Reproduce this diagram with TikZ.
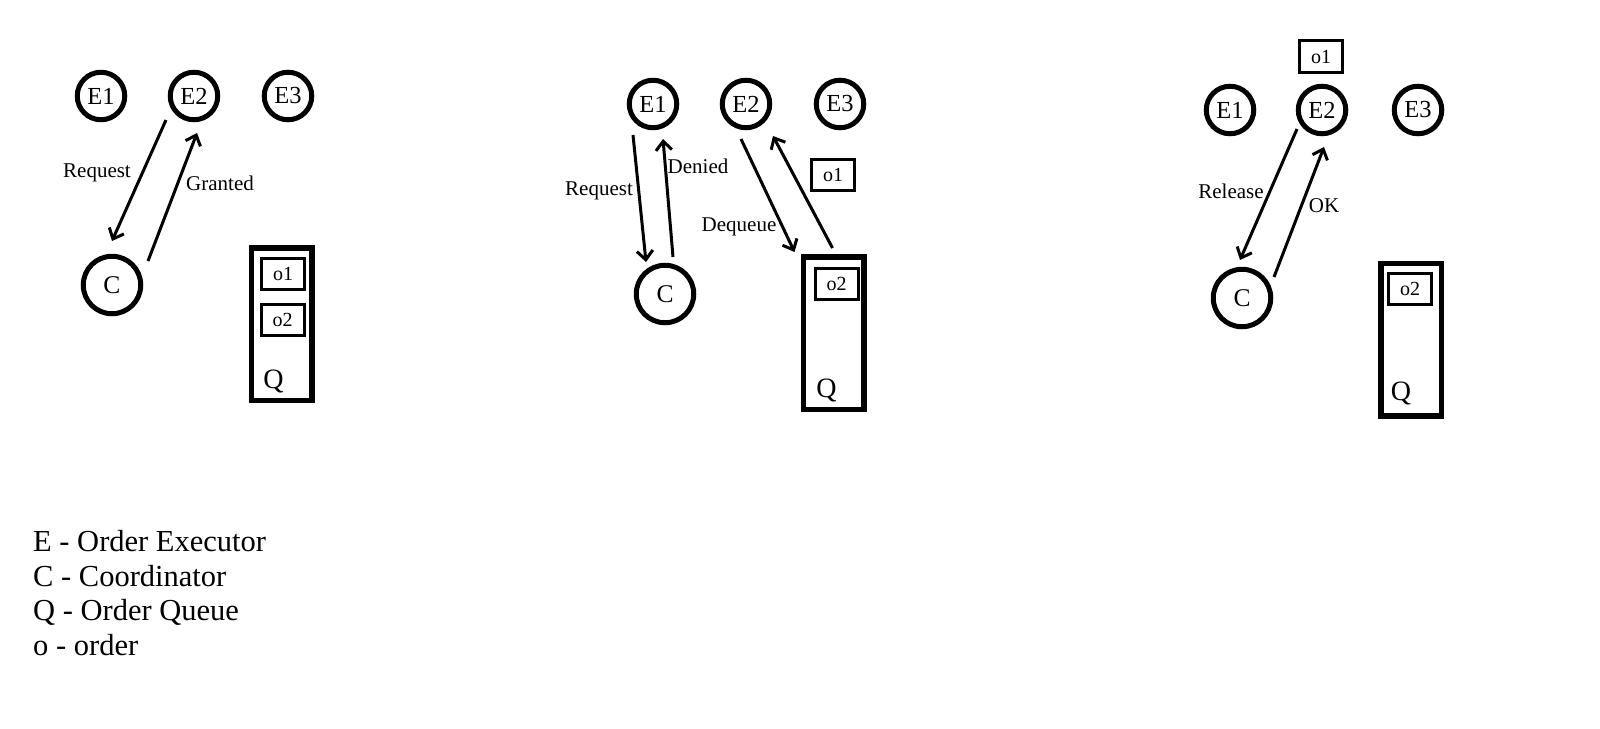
\documentclass[tikz,border=0pt]{standalone}
\usepackage{fontspec}
\setmainfont{Liberation Serif}
\usetikzlibrary{arrows.meta,calc}
\tikzset{
  exec/.style={circle, draw, line width=5pt, minimum size=47.5pt, inner sep=0pt, font=\fontsize{24.5}{24.5}\selectfont},
  coord/.style={circle, draw, line width=5pt, minimum size=57.5pt, inner sep=0pt, font=\fontsize{25.5}{25.5}\selectfont},
  queue/.style={draw, line width=5.5pt, minimum width=60.5pt, minimum height=152.5pt, inner sep=0pt},
  order/.style={draw, line width=3pt, minimum width=43pt, minimum height=31pt, inner sep=0pt, font=\fontsize{20}{20}\selectfont},
  qlbl/.style={inner sep=0pt, font=\fontsize{28}{28}\selectfont},
  msg/.style={line width=3pt, -{Straight Barb[length=9pt,width=16pt]}},
  lbl/.style={inner sep=0pt, font=\fontsize{21}{21}\selectfont},
  legend/.style={anchor=base west, inner sep=0pt, font=\fontsize{30.5}{30.5}\selectfont},
}
\begin{document}
\begin{tikzpicture}[x=1pt,y=-1pt]
\path[use as bounding box, fill=white] (0,0) rectangle (1600,728);

% ---------- Panel 1 ----------
\node[exec] (aE1) at (101,96) {E1};
\node[exec] (aE2) at (194,96) {E2};
\node[exec] (aE3) at (288,96) {E3};
\node[coord] (aC) at (112,285) {C};
\node[queue] (aQ) at (281.5,324) {};
\node[order] (aO1) at (283,274) {o1};
\node[order] (aO2) at (282.5,320) {o2};
\node[qlbl] (aQl) at (273.5,381) {Q};
\draw[msg] ($(aE2)+(-28,24)$) -- ($(aC)+(0,-44)$);
\draw[msg] ($(aC)+(36,-24)$) -- ($(aE2)+(3,37)$);
\node[lbl] (aReq) at (97,173) {Request};
\node[lbl] (aGr) at (220,183) {Granted};

% ---------- Panel 2 ----------
\node[exec] (bE1) at (653,104) {E1};
\node[exec] (bE2) at (746,104) {E2};
\node[exec] (bE3) at (840,104) {E3};
\node[coord] (bC) at (665,294) {C};
\node[queue] (bQ) at (833.5,333) {};
\node[order] (bO2) at (836.5,283.5) {o2};
\node[order] (bO1) at (833,175) {o1};
\node[qlbl] (bQl) at (826.5,390) {Q};
\draw[msg] ($(bE1)+(-20,31)$) -- ($(bC)+(-19,-32)$);
\draw[msg] ($(bC)+(8,-37)$) -- ($(bE1)+(10,35)$);
\draw[msg] ($(bE2)+(-5,35)$) -- ($(bQ.north west)+(-6,-2)$);
\draw[msg] ($(bQ.north)+(-1,-6)$) -- ($(bE2)+(27,32)$);
\node[lbl] (bReq) at (599,191) {Request};
\node[lbl] (bDen) at (698,166) {Denied};
\node[lbl] (bDeq) at (739,227) {Dequeue};

% ---------- Panel 3 ----------
\node[exec] (cE1) at (1230,110) {E1};
\node[exec] (cE2) at (1322,110) {E2};
\node[exec] (cE3) at (1418,110) {E3};
\node[coord] (cC) at (1242,298) {C};
\node[order, minimum height=32pt] (cO1) at (1321,56.5) {o1};
\node[queue] (cQ) at (1411,339.5) {};
\node[order] (cO2) at (1410,288.5) {o2};
\node[qlbl] (cQl) at (1401,393) {Q};
\draw[msg] ($(cE2)+(-25,19)$) -- ($(cC)+(-2,-38)$);
\draw[msg] ($(cC)+(32,-21)$) -- ($(cE2)+(2,37)$);
\node[lbl] (cRel) at (1231,191) {Release};
\node[lbl] (cOK) at (1324,206) {OK};

% ---------- Legend ----------
\node[legend] (legE) at (33,551) {E - Order Executor};
\node[legend] (legC) at (33,586) {C - Coordinator};
\node[legend] (legQ) at (33,620) {Q - Order Queue};
\node[legend] (lego) at (33,655) {o - order};
\end{tikzpicture}
\end{document}
